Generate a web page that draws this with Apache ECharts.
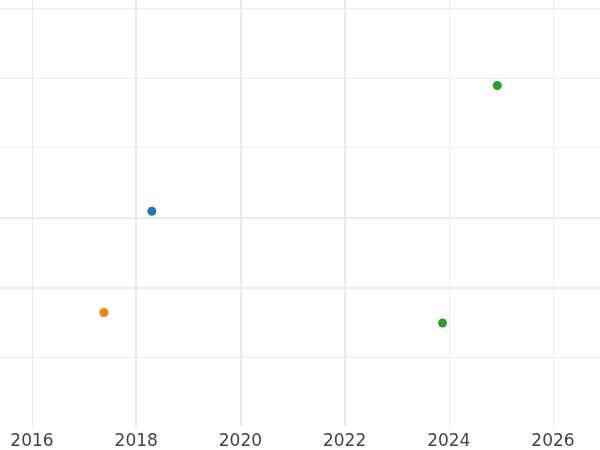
<!DOCTYPE html>
<html>
<head>
<meta charset="utf-8">
<script src="https://cdn.jsdelivr.net/npm/echarts@6/dist/echarts.min.js"></script>
<style>html,body{margin:0;padding:0;background:#fff;}#c{width:600px;height:450px;}</style>
</head>
<body>
<div id="c"></div>
<script>
// Data
const blueX = [2018.30];
const blueY = [2.09];
const orangeX = [2017.38];
const orangeY = [0.64];
const greenX = [2024.93, 2023.88];
const greenY = [3.89, 0.49];
// Tick labels / grid lines
const xTicks = [2016, 2018, 2020, 2022, 2024, 2026];
const yTicks = [0, 1, 2, 3, 4, 5];
// Emphasised grid lines
const thickX = [2018, 2020, 2022];
const thickY = [1, 2];

function pts(xs, ys) { return xs.map((x, i) => [x, ys[i]]); }

const chart = echarts.init(document.getElementById('c'), null, {renderer: 'canvas'});
const gridColor = '#ebebeb';
const thinLines = xTicks.filter(v => thickX.indexOf(v) < 0).map(v => ({xAxis: v}))
  .concat(yTicks.filter(v => thickY.indexOf(v) < 0).map(v => ({yAxis: v})));
const thickLines = thickX.map(v => ({xAxis: v})).concat(thickY.map(v => ({yAxis: v})));
chart.setOption({
  animation: false,
  backgroundColor: '#ffffff',
  grid: {left: 0, right: 0, top: 0, bottom: 23, containLabel: false},
  xAxis: {
    type: 'value', min: 2015.386, max: 2026.902,
    axisLine: {show: false}, axisTick: {show: false},
    axisLabel: {color: '#444444', fontFamily: 'DejaVu Sans', fontSize: 17, margin: 6,
      customValues: xTicks, formatter: v => String(v)},
    splitLine: {show: false}
  },
  yAxis: {
    type: 'value', min: -1, max: 5.115,
    axisLine: {show: false}, axisTick: {show: false}, axisLabel: {show: false},
    splitLine: {show: false}
  },
  series: [
    {
      type: 'scatter', data: [], z: 1, silent: true,
      markLine: {
        silent: true, symbol: 'none', animation: false,
        label: {show: false}, emphasis: {disabled: true},
        lineStyle: {color: gridColor, width: 1, type: 'solid'},
        data: thinLines
      }
    },
    {
      type: 'scatter', data: [], z: 1, silent: true,
      markLine: {
        silent: true, symbol: 'none', animation: false,
        label: {show: false}, emphasis: {disabled: true},
        lineStyle: {color: gridColor, width: 2, type: 'solid'},
        data: thickLines
      }
    },
    {type: 'scatter', name: 'a', data: pts(blueX, blueY), symbolSize: 9, itemStyle: {color: '#1f77b4', opacity: 1}, z: 5},
    {type: 'scatter', name: 'b', data: pts(orangeX, orangeY), symbolSize: 9, itemStyle: {color: '#ff7f0e', opacity: 1}, z: 5},
    {type: 'scatter', name: 'c', data: pts(greenX, greenY), symbolSize: 9, itemStyle: {color: '#2ca02c', opacity: 1}, z: 5}
  ]
});
</script>
</body>
</html>
